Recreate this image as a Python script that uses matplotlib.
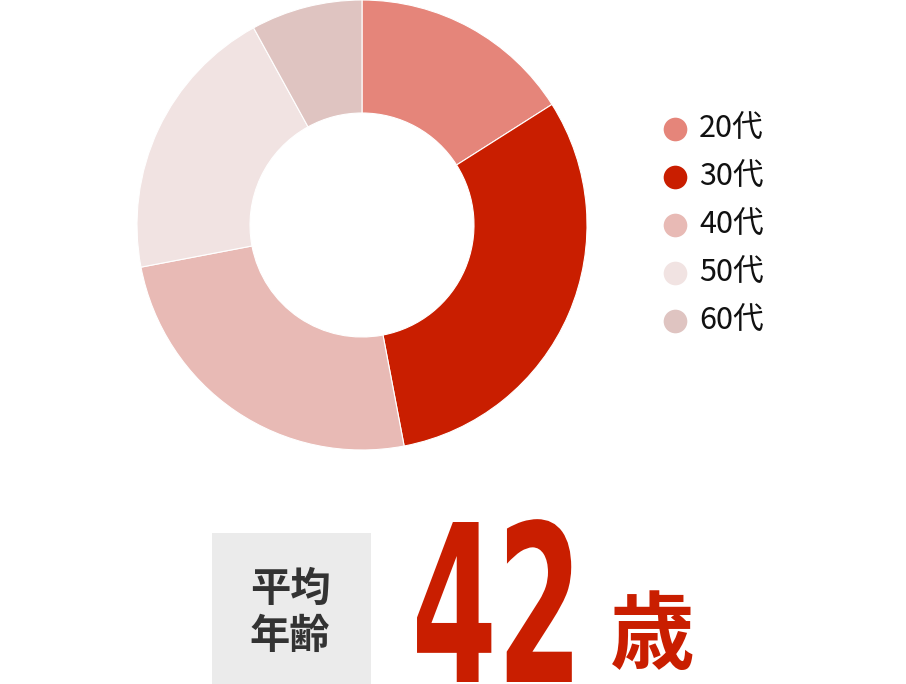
import matplotlib.pyplot as plt
from matplotlib.patches import Rectangle
from matplotlib.patheffects import AbstractPathEffect
from matplotlib.transforms import Affine2D

labels = ["20代", "30代", "40代", "50代", "60代"]
shares = [16, 31, 25, 20, 8]
colors = ["#e5857a", "#c91e00", "#e8bab5", "#f1e3e2", "#dfc4c1"]

avg_label = "平均\n年齢"
avg_value = "42"
avg_unit = "歳"

jp = ["Noto Sans CJK JP", "DejaVu Sans"]
red = "#c91e00"

W, H = 906, 684


class Squeeze(AbstractPathEffect):
    """squeeze glyphs horizontally around x = cx (display px) to fake a condensed face"""

    def __init__(self, cx, sx):
        super().__init__()
        self.cx, self.sx = cx, sx

    def draw_path(self, renderer, gc, tpath, affine, rgbFace=None):
        squeeze = Affine2D().translate(-self.cx, 0).scale(self.sx, 1).translate(self.cx, 0)
        renderer.draw_path(gc, tpath, affine + squeeze, rgbFace)


fig = plt.figure(figsize=(W / 100, H / 100), dpi=100)
ax = fig.add_axes([0, 0, 1, 1])

# donut, clockwise from 12 o'clock
ax.pie(shares, colors=colors, startangle=90, counterclock=False,
       center=(362, H - 225), radius=225,
       wedgeprops=dict(width=113, edgecolor="white", linewidth=0.8))

# legend: dot + label
for i, (lab, col) in enumerate(zip(labels, colors)):
    y = H - (129 + i * 48)
    ax.scatter(675, y, s=290, color=col, linewidths=0)
    ax.text(699, y, lab, fontsize=22, family=jp, va="center", ha="left", color="#111111")

# average age block
ax.add_patch(Rectangle((212, 0), 159, H - 533, color="#ebebeb", linewidth=0))
ax.text(290, H - 613, avg_label, fontsize=29, family=jp, fontweight="bold",
        color="#333333", ha="center", va="center", linespacing=1.2)
ax.text(497, H - 682, avg_value, fontsize=158, family="DejaVu Sans",
        fontweight="bold", color=red, ha="center", va="baseline",
        path_effects=[Squeeze(497, 0.56)])
ax.text(652, H - 637, avg_unit, fontsize=61, family=jp, fontweight="bold",
        color=red, ha="center", va="center")

ax.set_xlim(0, W)
ax.set_ylim(0, H)
ax.set_aspect("equal")
ax.axis("off")

fig.savefig("out.png", dpi=100)
